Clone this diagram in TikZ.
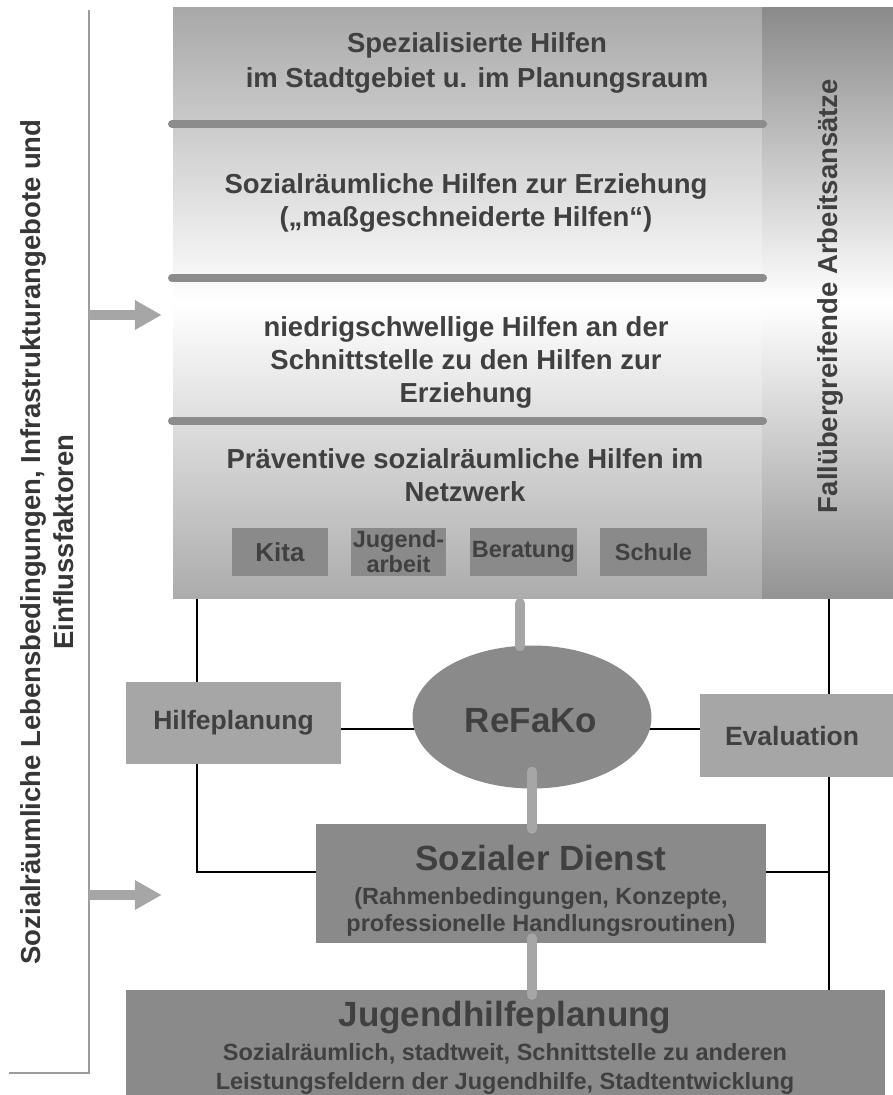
\documentclass[tikz,border=0pt]{standalone}
\usepackage{fontspec}
\setmainfont{Liberation Sans}
\usetikzlibrary{arrows.meta,shapes.geometric,backgrounds}
\definecolor{txt}{HTML}{404040}
\definecolor{boxdark}{HTML}{8A8A8A}
\definecolor{boxlight}{HTML}{A6A6A6}
\definecolor{sepgray}{HTML}{8C8C8C}
\definecolor{layertop}{HTML}{A8A8A8}
\definecolor{layerbot}{HTML}{ACACAC}
\definecolor{coltop}{HTML}{8A8A8A}
\definecolor{colbot}{HTML}{939393}
\definecolor{brgray}{HTML}{9C9C9C}
\newcommand\fsz[2]{\fontsize{#1}{#2}\selectfont}
\begin{document}
\begin{tikzpicture}[x=1pt,y=-1pt,
  layertext/.style={text=txt,align=center,font=\bfseries\fsz{27.5}{33}},
  smallbox/.style={fill=boxdark,minimum height=48pt,inner sep=0pt,text=txt,align=center,font=\bfseries\fsz{23.5}{25}},
  lightbox/.style={fill=boxlight,inner sep=0pt,text=txt,font=\bfseries\fsz{26.5}{30}},
  darkbox/.style={fill=boxdark,inner sep=0pt},
  titletext/.style={text=txt,font=\bfseries\fsz{35}{40}},
  subtext/.style={text=txt,align=center,font=\bfseries\fsz{23.5}{27}},
  gconn/.style={draw=boxlight,line width=10pt,line cap=round},
  bline/.style={draw=black,line width=1.3pt},
  sepline/.style={draw=sepgray,line width=8pt,line cap=round},
  brline/.style={draw=brgray,line width=2pt},
  inarrow/.style={draw=boxlight,line width=10pt,-{Triangle[length=27pt,width=28pt]}}
]
\useasboundingbox (0,0) rectangle (893,1095);

% layered block
\node[top color=layertop,bottom color=layerbot,middle color=white,
      minimum width=589pt,minimum height=591pt,inner sep=0pt] (layers) at (467.5,302.5) {};
\node[top color=coltop,bottom color=colbot,middle color=white,
      minimum width=131pt,minimum height=591pt,inner sep=0pt] (col) at (827.5,302.5) {};
\node[layertext,rotate=90] (coltext) at (830,296) {Fallübergreifende Arbeitsansätze};

\draw[sepline] (172,124) -- (763,124);
\draw[sepline] (172,278) -- (763,278);
\draw[sepline] (172,421) -- (763,421);

\node[layertext,font=\bfseries\fsz{27.5}{35}] (l1) at (477,63) {Spezialisierte Hilfen\\im Stadtgebiet u. im Planungsraum};
\node[layertext] (l2) at (466,203) {Sozialräumliche Hilfen zur Erziehung\\(„maßgeschneiderte Hilfen“)};
\node[layertext] (l3) at (466,362) {niedrigschwellige Hilfen an der\\Schnittstelle zu den Hilfen zur\\Erziehung};
\node[layertext] (l4) at (465,475) {Präventive sozialräumliche Hilfen im\\Netzwerk};

\node[smallbox,minimum width=96pt,font=\bfseries\fsz{26}{28}] (kita) at (280,552) {Kita};
\node[smallbox,minimum width=95pt] (jugend) at (398.5,552) {Jugend-\\arbeit};
\node[smallbox,minimum width=107pt] (beratung) at (523.5,552) {Beratung};
\node[smallbox,minimum width=107pt] (schule) at (653.5,552) {Schule};

% middle part
\node[ellipse,fill=boxdark,minimum width=239pt,minimum height=143pt,inner sep=0pt] (refako) at (532,717) {};
\node[titletext] (refakotext) at (531,721) {ReFaKo};
\node[lightbox,minimum width=215pt,minimum height=82pt] (hilfe) at (233.5,723) {Hilfeplanung};
\node[lightbox,minimum width=193pt,minimum height=83pt] (eval) at (796.5,735.5) {};
\node[text=txt,font=\bfseries\fsz{26.5}{30}] (evaltext) at (792,736) {Evaluation};

\node[darkbox,minimum width=450pt,minimum height=119pt] (sd) at (541,883.5) {};
\node[titletext] (sdtitle) at (541,858) {Sozialer Dienst};
\node[subtext] (sdsub) at (541,912) {(Rahmenbedingungen, Konzepte,\\professionelle Handlungsroutinen)};

\node[darkbox,minimum width=759pt,minimum height=105pt] (jhp) at (505.5,1042.5) {};
\node[titletext] (jhptitle) at (505,1018) {Jugendhilfeplanung};
\node[subtext,font=\bfseries\fsz{23.5}{29}] (jhpsub) at (505,1069) {Sozialräumlich, stadtweit, Schnittstelle zu anderen\\Leistungsfeldern der Jugendhilfe, Stadtentwicklung};

% left bracket and text
\coordinate (bt) at (89,10);
\coordinate (bb) at (89,1073);
\coordinate (bl) at (9,1073);
\draw[brline] (bt) -- (bb) -- (bl);
\node[layertext,text=txt!85!black,rotate=90] (lefttext) at (47,542) {Sozialräumliche Lebensbedingungen, Infrastrukturangebote und\\Einflussfaktoren};
\coordinate (a1) at (89,315);
\coordinate (a2) at (89,895);
\draw[inarrow] (a1) -- ([xshift=-11pt]layers.west |- a1);
\draw[inarrow] (a2) -- ([xshift=-11pt]layers.west |- a2);

% black connectors
\coordinate (lb) at (197,872);
\coordinate (rb) at (829,991);
\coordinate (hm) at (0,729);
\begin{scope}[on background layer]
\draw[bline] (layers.south -| lb) -- (lb) -- (lb -| sd.west);
\draw[bline] (col.south -| rb) -- (jhp.north -| rb);
\draw[bline] (sd.east |- lb) -- (rb |- lb);
\draw[bline] (hilfe.east |- hm) -- (refako.center |- hm);
\draw[bline] (refako.center |- hm) -- (eval.west |- hm);
\end{scope}

% gray connectors
\draw[gconn] ([xshift=-12pt,yshift=-5pt]refako.north |- layers.south) -- ([xshift=-12pt,yshift=-1pt]refako.north);
\draw[gconn] ([yshift=17pt]refako.south) -- ([yshift=-5pt]sd.north -| refako.south);
\draw[gconn] ([yshift=5pt]sd.south -| refako.south) -- ([yshift=-5pt]jhp.north -| refako.south);
\end{tikzpicture}
\end{document}
